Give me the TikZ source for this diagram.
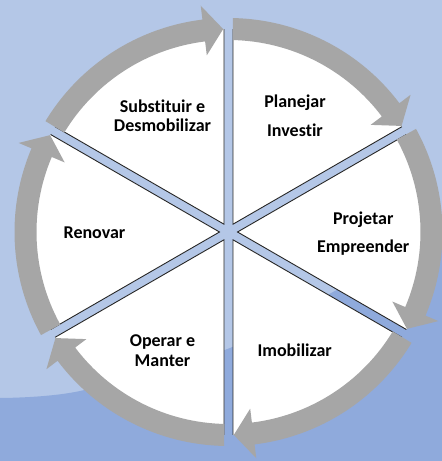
\documentclass[tikz,border=0pt]{standalone}
\usepackage{fontspec}
\setmainfont[Ligatures={NoCommon}]{Carlito}
\definecolor{bglight}{HTML}{B4C7E7}
\definecolor{bgdark}{HTML}{8FAADC}
\definecolor{ringgray}{HTML}{A6A6A6}
\definecolor{edgecol}{HTML}{262626}
\begin{document}
\begin{tikzpicture}[x=1pt,y=1pt,
  lbl/.style={font=\fontsize{18}{21}\selectfont\bfseries, anchor=base, inner sep=0pt},
  ringarrow/.style={fill=ringgray},
  sectorfill/.style={fill=white},
  spokeedge/.style={draw=edgecol, line width=0.9pt, line join=miter}]
\useasboundingbox (0,0) rectangle (442,461);
\fill[bglight] (0,0) rectangle (442,461);
\fill[bgdark] (0,0) -- plot[smooth] coordinates {(0,63) (80,70) (230,113) (333,169) (442,228)} -- (442,0) -- cycle;
\coordinate (C) at (228.5,229);
% white sectors
\foreach \p in {60,0,-60,-120,180,120}{
  \fill[sectorfill, shift={(C)}, shift={(\p:9pt)}] (0,0) -- (\p-30:195pt) arc[start angle=\p-30, end angle=\p+30, radius=195pt] -- cycle;
  \draw[spokeedge, shift={(C)}, shift={(\p:9pt)}] (\p-30:195pt) -- (0,0) -- (\p+30:195pt);
}
% circular arrows
\foreach \s/\e in {150/90, 90/30, 30/-30, -30/-90, -90/-150, 210/150}{
  \pgfmathsetmacro\a{\s-1.2}
  \pgfmathsetmacro\t{\e+1.5}
  \pgfmathsetmacro\b{\e+7}
  \fill[ringarrow, shift={(C)}] (\a:214pt) arc[start angle=\a, end angle=\b, radius=214pt] -- (\b:228pt) -- (\t:203pt) -- (\b:178pt) -- (\b:192pt) arc[start angle=\b, end angle=\a, radius=192pt] -- cycle;
}
% labels
\node[lbl] (sub1) at (162.5,348) {Substituir e};
\node[lbl] (sub2) at (162.5,329) {Desmobilizar};
\node[lbl] (pla1) at (295,353) {Planejar};
\node[lbl] (pla2) at (295,324) {Investir};
\node[lbl] (pro1) at (363.3,236) {Projetar};
\node[lbl] (pro2) at (363.3,208) {Empreender};
\node[lbl] (ren) at (94.5,222) {Renovar};
\node[lbl] (ope1) at (162.5,114) {Operar e};
\node[lbl] (ope2) at (162.5,94) {Manter};
\node[lbl] (imo) at (294.7,104) {Imobilizar};
\end{tikzpicture}
\end{document}
